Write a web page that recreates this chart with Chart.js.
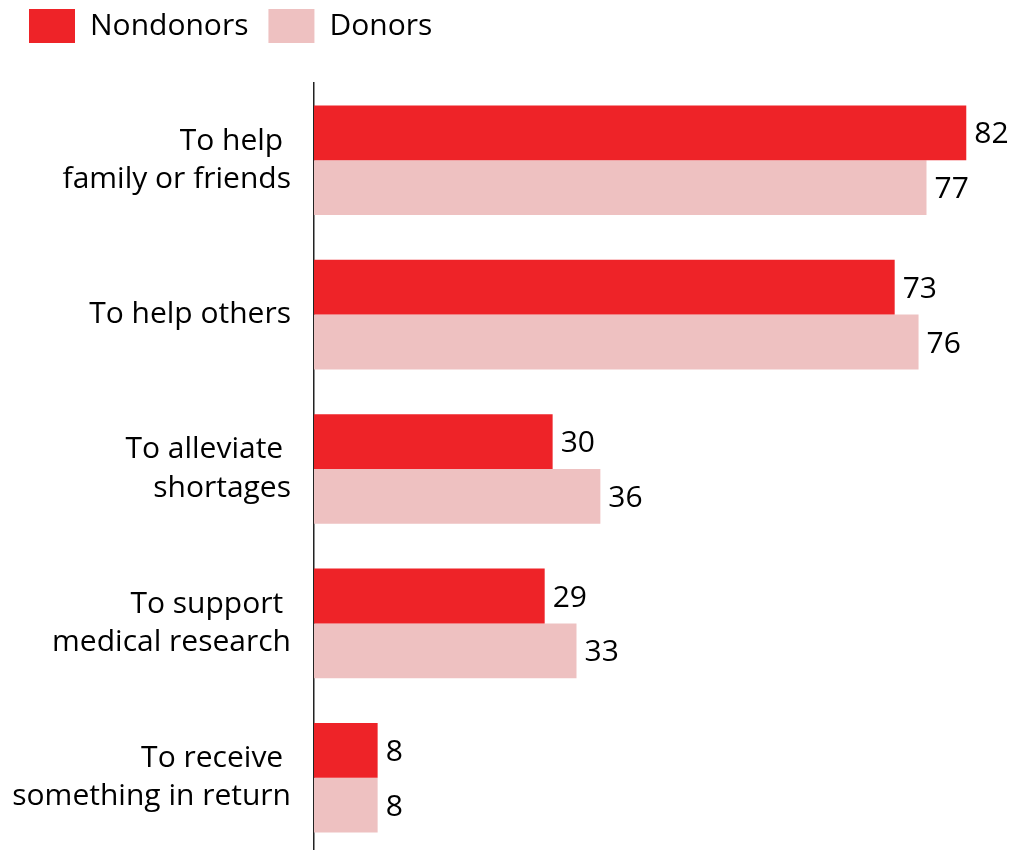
<!DOCTYPE html>
<html>
<head>
<meta charset="utf-8">
<script src="https://cdn.jsdelivr.net/npm/chart.js@4/dist/chart.umd.min.js"></script>
<style>
  html, body { margin: 0; padding: 0; background: #fff; overflow: hidden; }
  canvas { display: block; }
</style>
</head>
<body>
<canvas id="reasons-chart" width="1015" height="855"></canvas>
<script>
const reasons = [
    ['To help ', 'family or friends'],
    'To help others',
    ['To alleviate ', 'shortages'],
    ['To support ', 'medical research'],
    ['To receive ', 'something in return']
];
const nondonors = [82, 73, 30, 29, 8];
const donors = [77, 76, 36, 33, 8];

const FONT = "'Segoe UI', 'Open Sans', sans-serif";
const TEXT_SIZE = 30;

// writes the value just past the end of every bar
const valueLabels = {
    id: 'valueLabels',
    afterDatasetsDraw(chart) {
        const ctx = chart.ctx;
        ctx.save();
        ctx.fillStyle = '#000';
        ctx.font = TEXT_SIZE + 'px ' + FONT;
        ctx.textAlign = 'left';
        ctx.textBaseline = 'middle';
        chart.data.datasets.forEach((ds, i) => {
            chart.getDatasetMeta(i).data.forEach((bar, j) => {
                ctx.fillText(ds.data[j], bar.x + 8, bar.y + 2);
            });
        });
        ctx.restore();
    }
};

const ctx = document.getElementById('reasons-chart').getContext('2d');
new Chart(ctx, {
    type: 'bar',
    data: {
        labels: reasons,
        datasets: [
            { label: 'Nondonors', data: nondonors, backgroundColor: '#ee2328' },
            { label: 'Donors', data: donors, backgroundColor: '#eec1c1' }
        ]
    },
    plugins: [valueLabels],
    options: {
        indexAxis: 'y',
        responsive: false,
        animation: false,
        categoryPercentage: 0.71,
        barPercentage: 1.0,
        layout: { padding: { left: 9, right: 1, top: -11, bottom: 0 } },
        scales: {
            x: {
                position: 'top',
                min: 0,
                max: 88,
                grid: { display: false, drawTicks: false },
                border: { display: false },
                ticks: { display: false },
                // blank strip between the legend and the bars
                afterFit: (scale) => { scale.height = 30; }
            },
            y: {
                grid: { display: false, drawTicks: false },
                border: { display: true, color: '#222', width: 1.5 },
                ticks: {
                    color: '#000',
                    padding: 23,
                    font: { family: FONT, size: TEXT_SIZE, lineHeight: 1.27 }
                },
                afterFit: (scale) => {
                    scale.width = 305;
                    scale.paddingTop = 0;
                    scale.paddingBottom = 0;
                }
            }
        },
        plugins: {
            legend: {
                position: 'top',
                align: 'start',
                labels: {
                    boxWidth: 46,
                    boxHeight: 34,
                    padding: 20,
                    color: '#000',
                    font: { family: FONT, size: TEXT_SIZE }
                }
            },
            tooltip: { enabled: false }
        }
    }
});
</script>
</body>
</html>
